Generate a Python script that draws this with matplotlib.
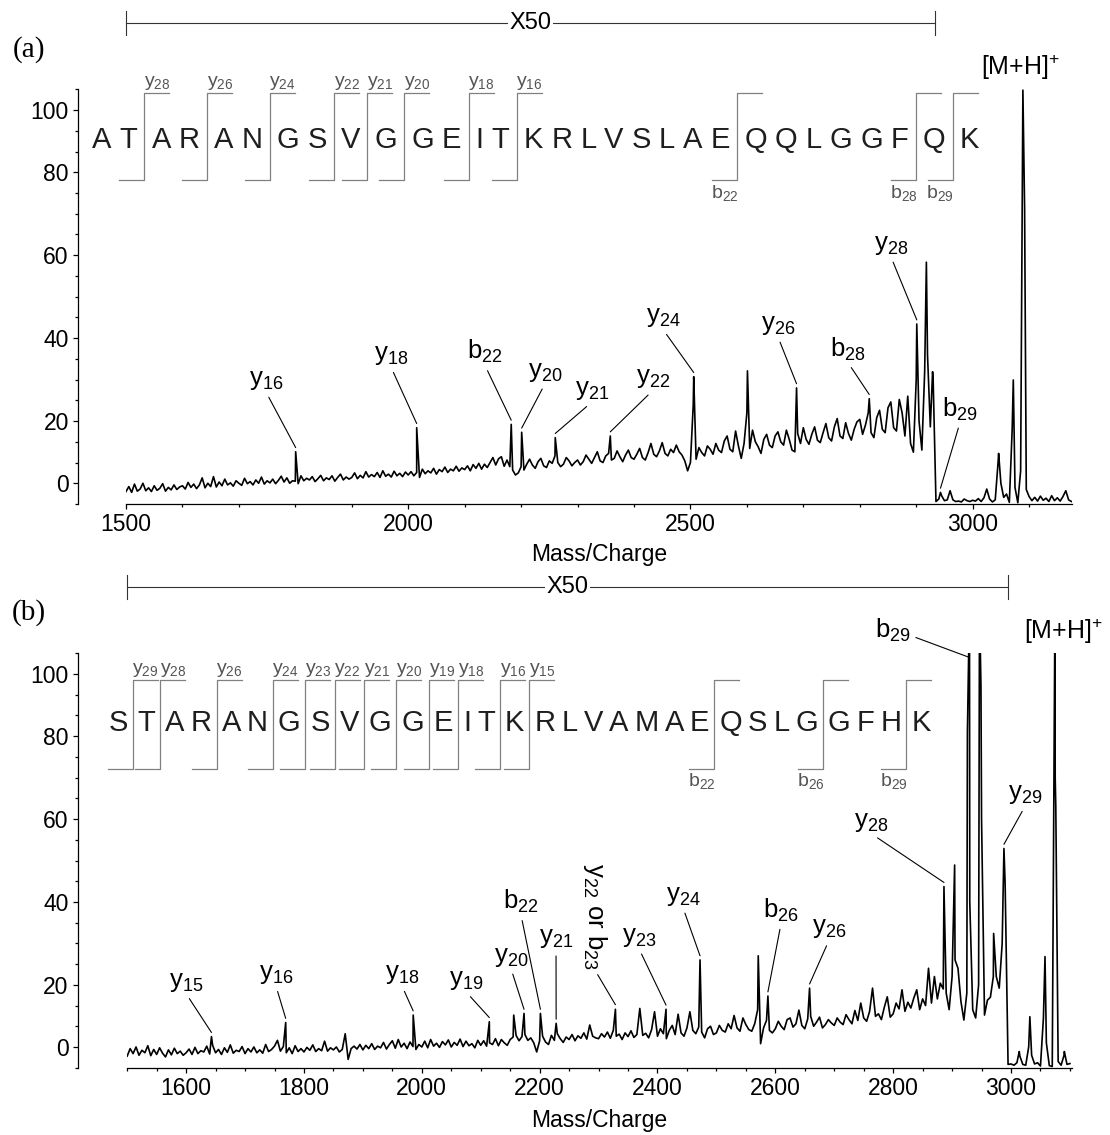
import numpy as np
import matplotlib
matplotlib.use("Agg")
import matplotlib.pyplot as plt
from matplotlib.ticker import FixedLocator, MultipleLocator

plt.rcParams['font.family'] = ['Liberation Sans', 'DejaVu Sans']
plt.rcParams['mathtext.default'] = 'regular'

STEP = 5

# y axis of both panels (the printed 0 and 100 sit one minor tick inside the ends)
y_tick_pos = [5, 20, 40, 60, 80, 95]
y_tick_labels = ['0', '20', '40', '60', '80', '100']

# ---------------- panel (a) ----------------
a_bg_start = 1500
a_bg = [
    3.0, 4.2, 2.8, 4.8, 3.1, 3.6, 5.0, 3.2, 3.9, 3.0, 4.4, 3.3, 3.8, 4.9, 3.1, 4.0, 3.4, 4.6, 3.5, 4.1,
    4.4, 3.6, 5.2, 4.0, 4.8, 3.7, 4.6, 6.3, 3.9, 5.0, 4.2, 6.6, 4.1, 5.3, 4.4, 6.0, 4.6, 5.1, 4.3, 5.6,
    5.0, 4.5, 6.2, 4.9, 5.4, 4.6, 5.8, 5.0, 6.5, 4.8, 5.6, 5.1, 6.0, 4.9, 5.7, 6.7, 5.3, 6.3, 5.0, 5.6,
    5.5, 4.9, 6.8, 5.6, 6.2, 5.8, 6.6, 5.4, 6.1, 6.9, 5.6, 6.3, 5.9, 6.8, 5.5, 6.4, 7.2, 5.8, 6.5, 6.0,
    6.4, 7.5, 6.1, 6.9, 6.3, 7.8, 6.5, 7.1, 6.6, 7.6, 6.4, 8.0, 6.7, 7.2, 6.5, 7.9, 6.8, 7.4, 6.6, 7.7,
    7.0, 7.8, 6.8, 7.6, 6.4, 8.4, 7.3, 8.0, 7.5, 8.6, 7.2, 8.3, 7.8, 8.9, 7.6, 8.4, 8.0, 9.1, 7.9, 8.7,
    8.3, 9.2, 8.0, 9.5, 8.6, 9.8, 8.4, 9.6, 8.8, 10.0, 11.2, 9.4, 10.9, 11.4, 9.1, 10.6, 9.0, 8.2, 7.0, 7.5,
    9.0, 8.2, 9.6, 10.8, 9.4, 8.6, 10.2, 11.0, 9.2, 8.8, 10.4, 9.8, 11.6, 10.0, 9.0, 9.6, 11.2, 10.4, 9.2, 10.0,
    10.6, 9.4, 10.2, 11.8, 10.8, 9.8, 11.2, 12.6, 10.4, 10.0, 11.6, 12.2, 10.6, 11.0, 12.8, 11.4, 10.2, 11.8, 13.0, 11.2,
    10.8, 12.0, 13.4, 11.2, 10.6, 12.4, 14.6, 12.0, 11.4, 12.8, 14.8, 12.2, 11.6, 13.2, 12.4, 14.2, 12.6, 11.8, 10.4, 8.0,
    10.0, 24.0, 10.8, 13.6, 12.4, 11.6, 14.0, 13.2, 12.0, 14.6, 13.0, 12.4, 15.2, 16.4, 13.2, 12.6, 17.6, 14.0, 11.0, 14.6,
    22.0, 13.4, 17.8, 15.0, 13.8, 12.2, 15.6, 16.8, 14.2, 13.6, 16.4, 17.4, 15.0, 14.2, 17.8, 15.6, 13.0, 12.6, 17.0, 14.6,
    18.4, 15.6, 14.4, 16.8, 18.6, 15.4, 14.8, 17.2, 19.4, 16.0, 15.2, 18.6, 20.6, 16.4, 15.8, 19.6, 17.0, 15.4, 18.0, 19.8,
    20.4, 16.8, 19.0, 22.0, 17.2, 16.0, 20.8, 22.6, 18.0, 17.2, 23.2, 24.6, 18.4, 17.6, 25.2, 22.0, 16.4, 26.0, 14.6, 12.5,
    30.0, 20.0, 13.0, 32.0, 36.0, 18.6, 30.0,
]
a_tail_start = 2935
a_tail = [
    0.6, 1.2, 2.0, 0.8, 1.0, 3.2, 1.0, 0.6, 0.7, 0.5, 1.2, 0.8, 0.6, 0.9, 0.7, 1.3, 0.6, 1.5, 3.6, 1.2,
    0.5, 1.0, 10.0, 5.0, 1.6, 2.4, 0.4, 18.0, 4.0, 0.3, 8.0, 90.0, 3.5, 1.8, 0.8, 1.6, 0.7, 1.9, 0.9, 1.4,
    0.6, 2.0, 0.8, 1.5, 0.7, 1.8, 3.2, 1.0, 0.6,
]
a_peak_mz = [1800.6, 2015, 2182.5, 2201, 2260.5, 2358, 2505.8, 2601, 2688, 2816.8,
             2901, 2918, 2929, 2943, 3046, 3072, 3089, 3092]
a_peak_int = [12.6, 18.4, 19.2, 17.3, 16.0, 16.4, 30.7, 32.1, 28.0, 25.4,
              43.4, 58.3, 31.9, 2.8, 12.2, 29.9, 99.8, 71.7]
a_seq = 'ATARANGSVGGEITKRLVSLAEQQLGGFQK'
a_y_ions = [28, 26, 24, 22, 21, 20, 18, 16]
a_b_ions = [22, 28, 29]
# (ion, number, peak m/z, label m/z, label height)
a_labels = [
    ('y', '16', 1800.6, 1748, 29.9),
    ('y', '18', 2015, 1969.5, 35.9),
    ('b', '22', 2182.5, 2136, 36.7),
    ('y', '20', 2201, 2242.3, 31.9),
    ('y', '21', 2260.5, 2325.6, 27.5),
    ('y', '22', 2358, 2433.6, 30.3),
    ('y', '24', 2505.8, 2451.3, 45.0),
    ('y', '26', 2688, 2655, 43.2),
    ('b', '28', 2816.8, 2779, 37.4),
    ('y', '28', 2901, 2855.2, 62.5),
    ('b', '29', 2943, 2977.5, 22.9),
]
a_parent = (3085.6, 105.4)
a_x50_end = 2934
a_xmax = 3176

# ---------------- panel (b) ----------------
b_bg_start = 1500
b_bg = [
    2.8, 4.6, 3.4, 5.0, 3.0, 4.2, 3.6, 5.3, 2.9, 4.4, 3.2, 4.8, 3.5, 2.6, 4.3, 3.1, 4.7, 3.4, 4.0, 3.0,
    3.6, 4.5, 3.2, 4.9, 3.4, 4.1, 3.8, 5.2, 3.3, 5.4, 3.6, 4.4, 3.2, 4.8, 3.7, 5.5, 3.5, 4.2, 3.9, 5.1,
    3.4, 4.6, 3.8, 5.0, 3.6, 4.3, 3.5, 5.6, 3.9, 4.4, 5.2, 6.6, 4.0, 5.1, 3.6, 4.8, 3.4, 5.3, 3.9, 4.6,
    3.8, 4.9, 4.2, 5.5, 3.9, 4.6, 4.1, 6.4, 4.0, 4.8, 4.3, 5.0, 3.8, 4.4, 8.2, 2.0, 4.6, 5.2, 4.5, 5.6,
    4.3, 5.4, 4.6, 5.8, 4.4, 5.2, 4.8, 6.1, 4.5, 5.6, 6.5, 4.7, 6.8, 5.0, 5.9, 4.6, 6.2, 5.1, 4.4, 5.6,
    5.0, 6.4, 4.8, 6.8, 5.2, 5.9, 4.9, 6.3, 5.5, 6.7, 5.0, 6.1, 5.4, 6.9, 5.1, 6.4, 5.3, 5.8, 4.8, 6.6,
    5.4, 6.5, 5.2, 6.0, 5.6, 7.0, 5.3, 6.8, 6.0, 5.4, 6.8, 7.4, 7.8, 6.5, 7.5, 8.0, 6.6, 7.2, 6.0, 3.8,
    6.5, 7.6, 6.2, 5.6, 7.8, 6.6, 8.2, 7.0, 6.1, 7.4, 6.8, 8.0, 6.5, 7.7, 7.1, 8.4, 6.9, 10.3, 7.6, 7.2,
    7.0, 8.2, 7.4, 8.6, 7.1, 9.0, 7.6, 8.1, 6.8, 8.4, 7.5, 8.9, 7.3, 8.0, 14.3, 7.8, 8.3, 7.2, 9.2, 13.5,
    7.6, 9.4, 8.2, 7.0, 9.0, 10.2, 8.0, 12.9, 8.4, 7.6, 9.6, 13.5, 9.0, 8.2, 9.8, 8.6, 7.2, 9.4, 10.0, 8.0,
    8.4, 10.2, 9.0, 8.6, 10.6, 9.4, 12.6, 9.6, 8.8, 12.0, 10.4, 9.2, 8.8, 10.6, 14.0, 5.8, 9.6, 11.4, 9.0, 8.4,
    9.4, 11.2, 10.0, 9.2, 11.6, 12.0, 9.8, 10.6, 13.9, 10.2, 9.4, 11.8, 12.4, 10.0, 11.0, 12.2, 9.6, 10.4, 11.6, 10.8,
    10.2, 12.0, 11.0, 10.4, 12.8, 11.6, 10.6, 13.8, 11.4, 15.6, 12.0, 11.2, 13.6, 19.2, 12.4, 13.0, 11.6, 14.6, 17.1, 12.2,
    13.0, 15.6, 14.2, 18.8, 13.6, 15.8, 14.4, 16.8, 18.8, 14.0, 16.6, 15.0, 24.0, 15.6, 22.0, 16.6,
    20.4, 19.0, 18.0, 14.0, 22.0, 26.0, 24.0, 16.0, 11.5, 18.0, 40.0, 14.0, 12.0, 20.0, 60.0, 12.7, 16.3, 17.0, 22.0, 22.0,
    19.2, 30.0, 44.5,
]
b_tail_start = 2995
b_tail = [0.8, 0.9, 0.6, 1.2, 2.8, 0.8, 0.6, 5.0, 3.0, 0.9, 1.2, 0.4, 12.0, 6.0, 0.5, 0.3,
          70.0, 1.5, 0.6, 3.0, 0.8, 1.0]
b_peak_mz = [1643, 1769, 1985.4, 2114.6, 2156, 2173.5, 2201.3, 2228, 2328.6, 2414.5,
             2472.2, 2571, 2587.4, 2658.1, 2886.2, 2904.3, 2926, 2929.5, 2946.5, 2949,
             2970.5, 2988, 3014, 3032, 3057.7, 3074.6, 3076, 3090.5]
b_peak_int = [7.5, 10.9, 12.7, 11.1, 12.7, 13.1, 13.1, 10.7, 14.1, 14.1,
              26.0, 27.0, 17.3, 19.2, 43.7, 48.9, 81.0, 112, 112, 92.0,
              32.4, 52.9, 3.9, 12.3, 26.8, 112, 63.0, 3.9]
b_seq = 'STARANGSVGGEITKRLVAMAEQSLGGFHK'
b_y_ions = [29, 28, 26, 24, 23, 22, 21, 20, 19, 18, 16, 15]
b_b_ions = [22, 26, 29]
b_labels = [
    ('y', '15', 1643, 1599.8, 20.8),
    ('y', '16', 1769, 1752.5, 22.6),
    ('y', '18', 1985.4, 1966.4, 22.6),
    ('y', '19', 2114.6, 2075, 21.2),
    ('y', '20', 2173.5, 2151.4, 26.8),
    ('b', '22', 2201.3, 2168.4, 40.1),
    ('y', '21', 2228, 2227.8, 31.2),
    ('y', '23', 2414.5, 2368.6, 31.6),
    ('y', '24', 2472.2, 2443.3, 41.5),
    ('b', '26', 2587.4, 2609.6, 38.0),
    ('y', '26', 2658.1, 2691, 33.6),
    ('y', '28', 2886.2, 2762.5, 59.4),
    ('b', '29', 2929.5, 2799, 105.6),
    ('y', '29', 2988, 3023.8, 66.0),
]
b_rot_label = ('y$_{22}$ or b$_{23}$', 2328.6, 2293.3, 36.6)
b_parent = (3088.8, 105.2)
b_x50_end = 2995
b_xmax = 3103


def build_trace(bg_start, bg, tail_start, tail, pk_mz, pk_int):
    mz = np.concatenate([bg_start + STEP * np.arange(len(bg)),
                         tail_start + STEP * np.arange(len(tail)),
                         np.asarray(pk_mz, float)])
    it = np.concatenate([bg, tail, pk_int]).astype(float)
    order = np.argsort(mz, kind='stable')
    return mz[order], it[order]


def style_axis(ax, xmax, major, minor_step, spine_off, labelpad):
    ax.set_xlim(1500, xmax)
    ax.set_ylim(0, 100)
    ax.patch.set_visible(False)
    for s in ('top', 'right'):
        ax.spines[s].set_visible(False)
    for s in ('left', 'bottom'):
        ax.spines[s].set_linewidth(0.9)
    ax.spines['left'].set_position(('outward', spine_off))
    ax.xaxis.set_major_locator(FixedLocator(major))
    ax.xaxis.set_minor_locator(MultipleLocator(minor_step))
    ax.yaxis.set_major_locator(FixedLocator(y_tick_pos))
    ax.set_yticklabels(y_tick_labels)
    ax.yaxis.set_minor_locator(MultipleLocator(5))
    ax.tick_params(which='major', direction='out', length=3.6, width=0.9, labelsize=16.5, pad=3)
    ax.tick_params(which='minor', direction='out', length=2.2, width=0.9)
    ax.set_xlabel('Mass/Charge', fontsize=16.5, labelpad=labelpad)


def draw_sequence(ax, seq, y_ions, b_ions, first_mz, last_mz, v_mid, v_top, v_bot, fs, gap_sp):
    r = ax.figure.canvas.get_renderer()
    tr = ax.transData
    ppu = tr.transform((1, 0))[0] - tr.transform((0, 0))[0]
    ppv = tr.transform((0, 1))[1] - tr.transform((0, 0))[1]

    def text_w(s):
        t = ax.text(0, 0, s, fontsize=fs)
        w = t.get_window_extent(r).width
        t.remove()
        return w

    base = text_w('HH')
    adv = [text_w('H' + c + 'H') - base for c in seq]
    n = len(seq)
    cuts = {n - k: ('y', k) for k in y_ions}
    cuts.update({k: ('b', k) for k in b_ions})
    span = (last_mz - first_mz) * ppu
    c2c = sum(adv) - (adv[0] + adv[-1]) / 2
    gap_br = (span - c2c - (n - 1 - len(cuts)) * gap_sp) / len(cuts)
    arm = 25 / ppu
    cap = 0.716 * fs * 100 / 72 / ppv

    x = 0.0
    for i, c in enumerate(seq):
        if i > 0:
            g = gap_br if i in cuts else gap_sp
            if i in cuts:
                kind, k = cuts[i]
                bx = first_mz + (x + adv[i - 1] / 2 + g / 2) / ppu
                ax.plot([bx - arm, bx, bx, bx + arm], [v_bot, v_bot, v_top, v_top],
                        color='#808080', lw=0.9, clip_on=False)
                if kind == 'y':
                    ax.text(bx + arm / 2 + 0.5 / ppu, v_top + 0.3, 'y$_{%d}$' % k, ha='center',
                            va='bottom', fontsize=14, color='#555555')
                else:
                    ax.text(bx - arm / 2, v_bot - 0.6, 'b$_{%d}$' % k, ha='center', va='top',
                            fontsize=14, color='#555555')
            x += adv[i - 1] / 2 + g + adv[i] / 2
        ax.text(first_mz + x / ppu, v_mid - cap / 2, c, fontsize=fs, ha='center',
                va='baseline', color='#1e1e1e')


def add_labels(ax, labels, pk_mz, pk_int):
    lookup = dict(zip(pk_mz, pk_int))
    tr = ax.transData
    for ion, num, pk, tx, tv in labels:
        end_v = min(lookup[pk] + 1.0, 99.0)
        p0 = tr.transform((tx, tv))
        p1 = tr.transform((pk, end_v))
        dx, dy = p1[0] - p0[0], p0[1] - p1[1]
        if abs(dx) > 2 * abs(dy):
            rel = (1.0 if dx > 0 else 0.0, 0.3)
        else:
            rel = (0.5, 0.0)
        ax.annotate('%s$_{%s}$' % (ion, num), xy=(pk, end_v), xytext=(tx, tv),
                    ha='center', va='center', fontsize=18.5, annotation_clip=False,
                    arrowprops=dict(arrowstyle='-', lw=0.8, color='black',
                                    shrinkA=2, shrinkB=0, relpos=rel))


def draw_x50(ax, x_end):
    ax.plot([1500, x_end], [116, 116], color='#333333', lw=0.8, clip_on=False)
    for xe in (1500, x_end):
        ax.plot([xe, xe], [113, 119], color='#333333', lw=0.8, clip_on=False)
    ax.text((1500 + x_end) / 2, 116, 'X50', ha='center', va='center', fontsize=17,
            bbox=dict(facecolor='white', edgecolor='none', pad=1))


fig = plt.figure(figsize=(11.10, 11.35), dpi=100)
axA = fig.add_axes([126 / 1110, 1 - 504 / 1135, 946 / 1110, (504 - 89.3) / 1135])
axB = fig.add_axes([127.2 / 1110, 1 - 1067.7 / 1135, (1071.7 - 127.2) / 1110, (1067.7 - 653.3) / 1135])

style_axis(axA, a_xmax, [1500, 2000, 2500, 3000], 100, 34.6, 5)
style_axis(axB, b_xmax, [1600, 1800, 2000, 2200, 2400, 2600, 2800, 3000], 50, 35.6, 6.5)

mzA, itA = build_trace(a_bg_start, a_bg, a_tail_start, a_tail, a_peak_mz, a_peak_int)
axA.plot(mzA, itA, color='black', lw=1.2)
mzB, itB = build_trace(b_bg_start, b_bg, b_tail_start, b_tail, b_peak_mz, b_peak_int)
axB.plot(mzB, itB, color='black', lw=1.2)

draw_sequence(axA, a_seq, a_y_ions, a_b_ions, 1457.1, 2994.5, 88.3, 99.0, 78.1, 21, 8.0)
draw_sequence(axB, b_seq, b_y_ions, b_b_ions, 1484.2, 2847.2, 83.8, 93.6, 72.2, 21, 6.0)

add_labels(axA, a_labels, a_peak_mz, a_peak_int)
add_labels(axB, b_labels, b_peak_mz, b_peak_int)

txt, pk, tx, tv = b_rot_label
axB.annotate(txt, xy=(pk, 15.2), xytext=(tx, tv), rotation=-90, ha='center', va='center',
             fontsize=18.5, annotation_clip=False,
             arrowprops=dict(arrowstyle='-', lw=0.8, color='black', shrinkA=2, shrinkB=0,
                             relpos=(0.5, 0.0)))

axA.text(*a_parent, '[M+H]$^{+}$', ha='center', va='center', fontsize=18)
axB.text(*b_parent, '[M+H]$^{+}$', ha='center', va='center', fontsize=18)

draw_x50(axA, a_x50_end)
draw_x50(axB, b_x50_end)

fig.text(28.5 / 1110, 1 - 50 / 1135, '(a)', ha='center', va='center', fontsize=21,
         family='Liberation Serif')
fig.text(28.5 / 1110, 1 - 613 / 1135, '(b)', ha='center', va='center', fontsize=21,
         family='Liberation Serif')

fig.savefig('out.png', dpi=100)
